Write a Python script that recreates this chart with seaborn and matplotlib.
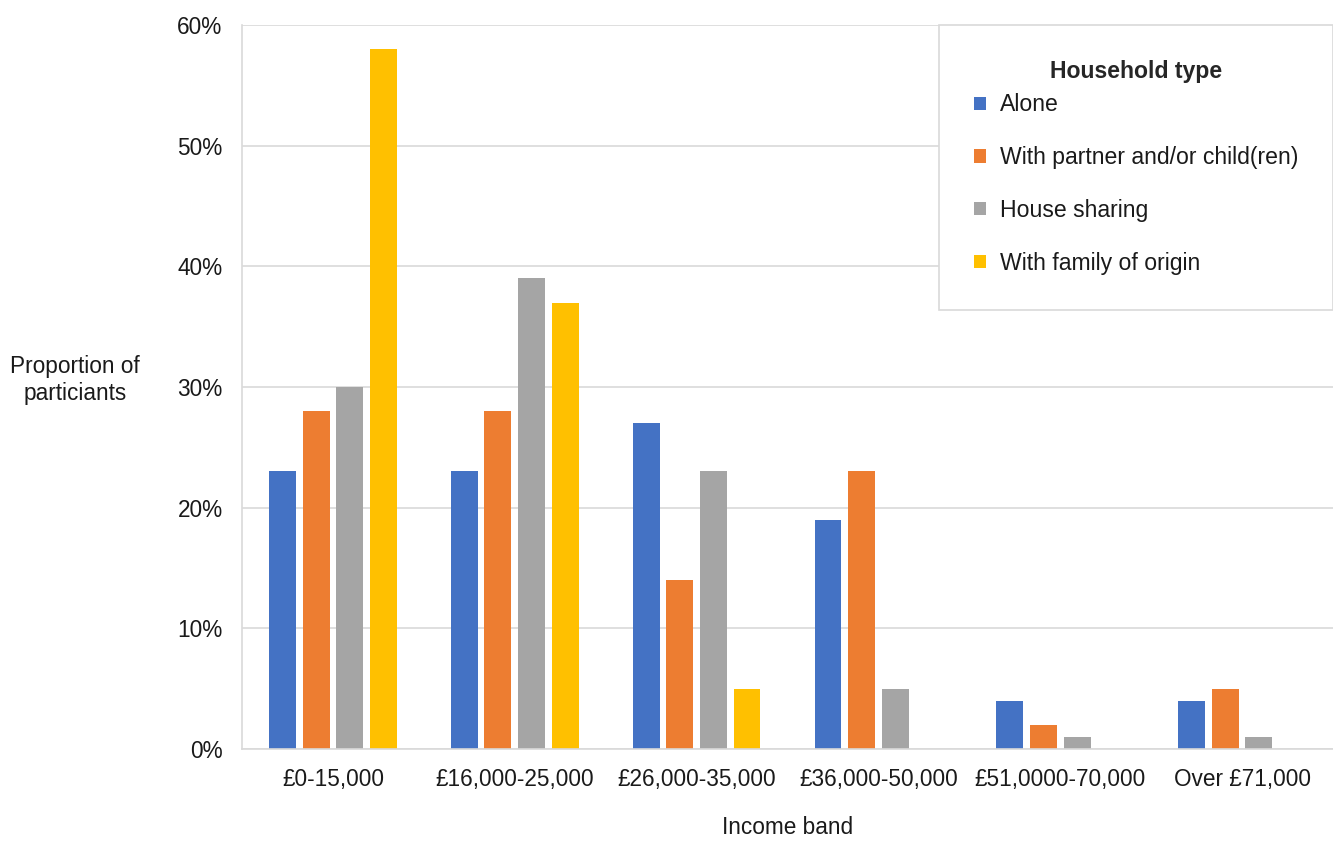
import matplotlib
matplotlib.use("Agg")
import matplotlib.pyplot as plt
import seaborn as sns
import pandas as pd
from matplotlib.ticker import PercentFormatter

income_bands = ["£0-15,000", "£16,000-25,000", "£26,000-35,000",
                "£36,000-50,000", "£51,0000-70,000", "Over £71,000"]
household_types = ["Alone", "With partner and/or child(ren)",
                   "House sharing", "With family of origin"]
alone = [0.23, 0.23, 0.27, 0.19, 0.04, 0.04]
partner = [0.28, 0.28, 0.14, 0.23, 0.02, 0.05]
sharing = [0.30, 0.39, 0.23, 0.05, 0.01, 0.01]
family = [0.58, 0.37, 0.05, 0.00, 0.00, 0.00]
colors = ["#4472C4", "#ED7D31", "#A5A5A5", "#FFC000"]

rows = []
for ht, vals in zip(household_types, [alone, partner, sharing, family]):
    for band, v in zip(income_bands, vals):
        rows.append({"Income band": band, "Household type": ht, "value": v})
df = pd.DataFrame(rows)

sns.set_theme(style="white")
plt.rcParams["font.family"] = ["Liberation Sans", "DejaVu Sans"]

fig = plt.figure(figsize=(13.33, 8.41), dpi=100)
ax = fig.add_axes([242/1333, 1 - 749/841, 1 - 242/1333, (749 - 25)/841])

sns.barplot(data=df, x="Income band", y="value", hue="Household type",
            order=income_bands, hue_order=household_types,
            palette=colors, width=0.74, gap=0.2, saturation=1,
            linewidth=0, ax=ax, legend=True)

ax.set_ylim(0, 0.6)
ax.set_yticks([0, 0.1, 0.2, 0.3, 0.4, 0.5, 0.6])
ax.yaxis.set_major_formatter(PercentFormatter(1, decimals=0))
ax.grid(axis="y", color="#d9d9d9", linewidth=1.2)
ax.set_axisbelow(True)
for s in ["top", "right"]:
    ax.spines[s].set_visible(False)
for s in ["left", "bottom"]:
    ax.spines[s].set_color("#d9d9d9")
    ax.spines[s].set_linewidth(1.2)

ax.tick_params(axis="y", length=0, pad=14, labelsize=16.3, colors="#1a1a1a")
ax.tick_params(axis="x", length=0, pad=14, labelsize=16.3, colors="#1a1a1a")

ax.set_xlabel("Income band", fontsize=16.3, labelpad=18, color="#1a1a1a")
ax.set_ylabel("Proportion of\nparticiants", fontsize=16.3, rotation=0,
              ha="center", va="center", color="#1a1a1a")
ax.yaxis.set_label_coords(-0.153, 0.51)

handles, labels = ax.get_legend_handles_labels()
leg = ax.legend(handles, labels, title="Household type",
                loc="upper left", bbox_to_anchor=(0.639, 0.0, 0.361, 1.0),
                mode="expand", fontsize=16.6, title_fontsize=16.6,
                frameon=True, fancybox=False, edgecolor="#d9d9d9",
                framealpha=1, facecolor="white",
                borderpad=1.52, labelspacing=1.29, handlelength=0.5,
                handleheight=0.5, handletextpad=0.6, borderaxespad=0)
leg.get_title().set_fontweight("bold")
leg.get_frame().set_linewidth(1.2)
for t in leg.get_texts():
    t.set_color("#1a1a1a")
leg._legend_box.sep = 7.5

fig.savefig("out.png", dpi=100, facecolor="white")
